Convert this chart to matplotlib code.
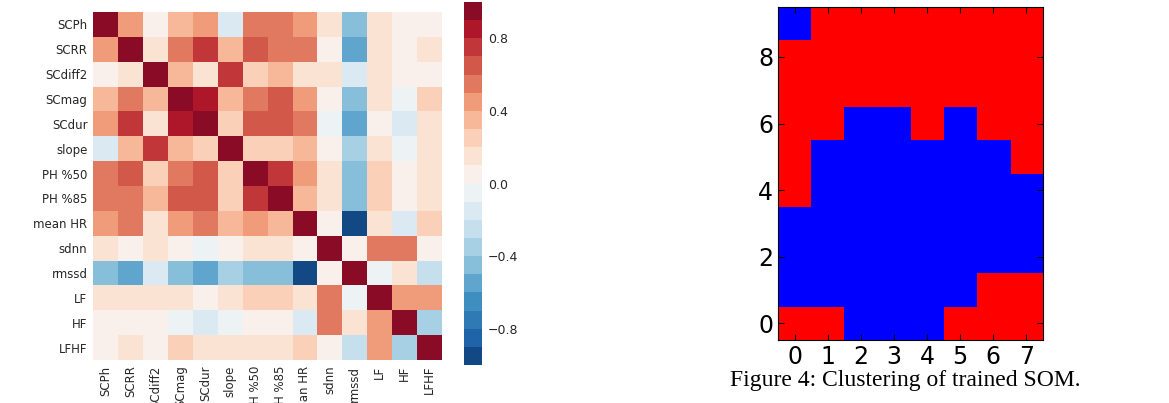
import numpy as np
import matplotlib
matplotlib.use("Agg")
import matplotlib.pyplot as plt
from matplotlib.colors import BoundaryNorm, ListedColormap

# Correlation matrix
labels = ["SCPh", "SCRR", "SCdiff2", "SCmag", "SCdur", "slope", "PH %50",
          "PH %85", "mean HR", "sdnn", "rmssd", "LF", "HF", "LFHF"]
corr = np.array([
    [1.00, 0.45, 0.05, 0.35, 0.45, -0.15, 0.55, 0.55, 0.45, 0.15, -0.45, 0.15, 0.05, 0.05],
    [0.45, 1.00, 0.15, 0.55, 0.75, 0.35, 0.65, 0.55, 0.55, 0.05, -0.55, 0.15, 0.05, 0.15],
    [0.05, 0.15, 1.00, 0.35, 0.15, 0.75, 0.25, 0.35, 0.15, 0.15, -0.15, 0.15, 0.05, 0.05],
    [0.35, 0.55, 0.35, 1.00, 0.85, 0.35, 0.55, 0.65, 0.45, 0.05, -0.45, 0.15, -0.05, 0.25],
    [0.45, 0.75, 0.15, 0.85, 1.00, 0.25, 0.65, 0.65, 0.55, -0.05, -0.55, 0.05, -0.15, 0.15],
    [-0.15, 0.35, 0.75, 0.35, 0.25, 1.00, 0.25, 0.25, 0.35, 0.05, -0.35, 0.15, -0.05, 0.15],
    [0.55, 0.65, 0.25, 0.55, 0.65, 0.25, 1.00, 0.75, 0.45, 0.15, -0.45, 0.25, 0.05, 0.15],
    [0.55, 0.55, 0.35, 0.65, 0.65, 0.25, 0.75, 1.00, 0.35, 0.15, -0.45, 0.25, 0.05, 0.15],
    [0.45, 0.55, 0.15, 0.45, 0.55, 0.35, 0.45, 0.35, 1.00, 0.05, -0.95, 0.15, -0.15, 0.25],
    [0.15, 0.05, 0.15, 0.05, -0.05, 0.05, 0.15, 0.15, 0.05, 1.00, 0.05, 0.55, 0.55, 0.05],
    [-0.45, -0.55, -0.15, -0.45, -0.55, -0.35, -0.45, -0.45, -0.95, 0.05, 1.00, -0.05, 0.15, -0.25],
    [0.15, 0.15, 0.15, 0.15, 0.05, 0.15, 0.25, 0.25, 0.15, 0.55, -0.05, 1.00, 0.45, 0.45],
    [0.05, 0.05, 0.05, -0.05, -0.15, -0.05, 0.05, 0.05, -0.15, 0.55, 0.15, 0.45, 1.00, -0.35],
    [0.05, 0.15, 0.05, 0.25, 0.15, 0.15, 0.15, 0.15, 0.25, 0.05, -0.25, 0.45, -0.35, 1.00],
])
cbar_ticks = [-0.8, -0.4, 0.0, 0.4, 0.8]

# SOM cluster map, row 0 = bottom (1 = red cluster, 0 = blue cluster)
som = np.array([
    [1, 1, 0, 0, 0, 1, 1, 1],
    [0, 0, 0, 0, 0, 0, 1, 1],
    [0, 0, 0, 0, 0, 0, 0, 0],
    [0, 0, 0, 0, 0, 0, 0, 0],
    [1, 0, 0, 0, 0, 0, 0, 0],
    [1, 0, 0, 0, 0, 0, 0, 1],
    [1, 1, 0, 0, 1, 0, 1, 1],
    [1, 1, 1, 1, 1, 1, 1, 1],
    [1, 1, 1, 1, 1, 1, 1, 1],
    [0, 1, 1, 1, 1, 1, 1, 1],
])

fig = plt.figure(figsize=(11.69, 4.03), dpi=100)

# heatmap: 20 colours sampled from RdBu_r without the two extremes (seaborn-like)
ax = fig.add_axes([0.0796, 0.1067, 0.2986, 0.8635])
levels = np.linspace(-1, 1, 21)
cmap = ListedColormap(plt.get_cmap("RdBu_r")(np.linspace(0, 1, 22)[1:-1]))
norm = BoundaryNorm(levels, cmap.N)
mesh = ax.pcolormesh(corr, cmap=cmap, norm=norm)
ax.set_xlim(0, len(labels))
ax.set_ylim(len(labels), 0)
ax.set_xticks(np.arange(len(labels)) + 0.5)
ax.set_yticks(np.arange(len(labels)) + 0.5)
ax.set_xticklabels(labels, rotation=90, fontsize=8.5, color="#262626")
ax.set_yticklabels(labels, fontsize=8.5, color="#262626")
ax.tick_params(length=0, pad=4)
for s in ax.spines.values():
    s.set_visible(False)

cax = fig.add_axes([0.397, 0.0943, 0.0154, 0.9007])
cb = fig.colorbar(mesh, cax=cax, ticks=cbar_ticks)
cb.outline.set_visible(False)
cb.minorticks_off()
cb.ax.tick_params(length=0, labelsize=9, labelcolor="#262626", pad=4)

# SOM clustering
ax2 = fig.add_axes([0.6655, 0.1563, 0.2267, 0.8263])
ax2.imshow(som, origin="lower", cmap=ListedColormap(["#0000ff", "#ff0000"]),
           interpolation="nearest", aspect="auto")
ax2.set_xlim(-0.5, 7.5)
ax2.set_ylim(-0.5, 9.5)
ax2.set_xticks(range(8))
ax2.set_yticks([0, 2, 4, 6, 8])
ax2.tick_params(direction="in", top=True, right=True, labelsize=17, length=4)

fig.text(0.774, 0.055, "Figure 4: Clustering of trained SOM.", ha="center",
         va="center", fontsize=17, family="Liberation Serif")

fig.savefig("out.png", dpi=100)
